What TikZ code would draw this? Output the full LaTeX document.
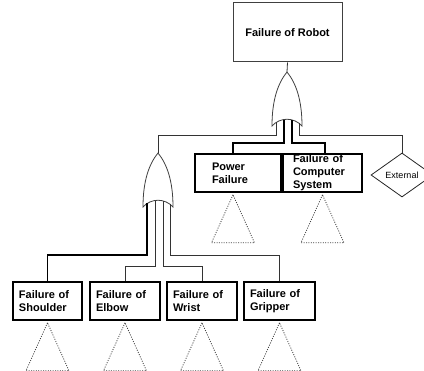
\documentclass[tikz,border=0pt]{standalone}
\usepackage{fontspec}
\setmainfont{Liberation Sans}
\usepackage{tikz}
\usetikzlibrary{calc, shapes.geometric}

\tikzset{
    event/.style={draw, line width=1.6pt, minimum height=38pt,
        inner xsep=6pt, inner ysep=0pt, align=left,
        font=\bfseries\fontsize{11}{13}\selectfont},
    gate/.style={draw=black!75, fill=white, line width=0.8pt},
    thinwire/.style={draw=black!80, line width=0.8pt},
    thickwire/.style={draw=black, line width=1.6pt},
    transfer/.style={draw=black!75, line width=0.8pt,
        dash pattern=on 1pt off 1.4pt},
    pics/orgate/.style={code={
        \draw[gate] (0,0) .. controls (-9,11) and (-15,28) .. (-15,54)
            .. controls (-7,45) and (7,45) .. (15,54)
            .. controls (15,28) and (9,11) .. (0,0) -- cycle;
        \coordinate (-top) at (0,0);
        \coordinate (-in1) at (-11,50.5);
        \coordinate (-in2) at (-3,47.6);
        \coordinate (-in3) at (5,47.9);
        \coordinate (-in4) at (12,51.1);
    }},
    pics/undev/.style={code={
        \draw[transfer] (0,0) -- (-21.5,48) -- (21.5,48) -- cycle;
    }}
}

\begin{document}
\begin{tikzpicture}[x=1pt, y=-1pt]
    \useasboundingbox (0,0) rectangle (424,371);

    \node[draw=black!75, line width=1pt, minimum width=109pt,
        minimum height=59pt, font=\bfseries\fontsize{11}{13}\selectfont]
        (robot) at (287.5,32.5) {Failure of Robot};

    \node[event, minimum width=86pt, inner xsep=17pt, text width=52pt]
        (power) at (238,173) {Power\\Failure};
    \node[event, minimum width=79pt, inner xsep=10pt, text width=59pt]
        (computer) at (322.5,173) {Failure of\\Computer\\System};
    \node[diamond, draw=black!85, line width=0.8pt, minimum width=62pt,
        minimum height=44pt, inner sep=0pt, font=\fontsize{9}{10}\selectfont]
        (external) at (402,175) {External};

    \node[event, minimum width=69pt, text width=57pt]
        (shoulder) at (47.5,301) {Failure of\\Shoulder};
    \node[event, minimum width=70pt, text width=58pt]
        (elbow) at (125,301) {Failure of\\Elbow};
    \node[event, minimum width=70pt, text width=58pt]
        (wrist) at (202,301) {Failure of\\Wrist};
    \node[event, minimum width=71pt, text width=59pt]
        (gripper) at (279.5,301) {Failure of\\Gripper};

    \pic (top) at (287,72) {orgate};
    \pic (arm) at (158,153) {orgate};

    \draw[thinwire] (robot.south) -- (top-top);
    \draw[thinwire] (top-in1) -- ++(0,12.5) -| (arm-top);
    \draw[thickwire] (top-in2) -- ++(0,23.4) -| ([xshift=-5pt]power.north);
    \draw[thickwire] (top-in3) -- ++(0,23.1) -| ([xshift=2.5pt]computer.north);
    \draw[thinwire] (top-in4) -- ++(0,11.9) -| (external.north);

    \draw[thickwire] (arm-in1) -- ++(0,51.5) -| (shoulder.north);
    \draw[thinwire] (arm-in2) -- ++(0,65.4) -| (elbow.north);
    \draw[thinwire] (arm-in3) -- ++(0,65.1) -| (wrist.north);
    \draw[thinwire] (arm-in4) -- ++(0,50.9) -| (gripper.north);

    \pic at ([xshift=-5pt,yshift=-2pt]power.south) {undev};
    \pic at ([yshift=-2pt]computer.south) {undev};
    \foreach \ev in {shoulder, elbow, wrist, gripper}
        \pic at ([yshift=-2pt]\ev.south) {undev};
\end{tikzpicture}
\end{document}
